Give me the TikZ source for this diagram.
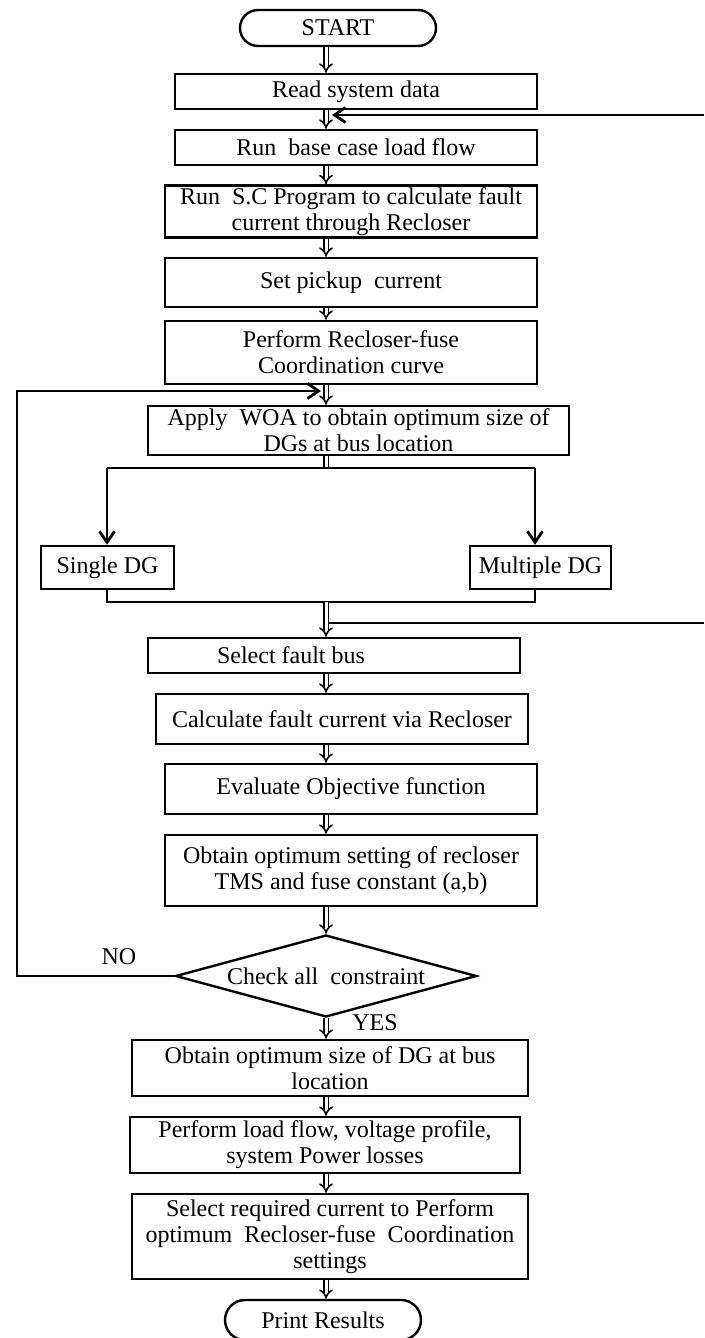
\documentclass[tikz,border=0pt]{standalone}
\usepackage{fontspec}
\setmainfont{Liberation Serif}
\usepackage{tikz}
\usetikzlibrary{shapes.geometric,shapes.misc,arrows.meta,positioning,calc}

\begin{document}
\begin{tikzpicture}[x=1pt,y=-1pt,
    font=\fontsize{24}{26}\selectfont,
    box/.style={draw,line width=2.4pt,inner sep=2pt,align=center},
    term/.style={draw,line width=2.4pt,rounded rectangle,inner sep=2pt},
    decision/.style={draw,line width=2.4pt,diamond,aspect=3.7,inner sep=0pt},
    dbl/.style={double,double distance=3pt,line width=1.6pt,-{Implies}},
    dblline/.style={double,double distance=3pt,line width=1.6pt},
    flow/.style={line width=2.8pt,-{Straight Barb[length=11pt,width=15pt]}},
    plain/.style={line width=2.8pt}]
\useasboundingbox (0,0) rectangle (704,1338);

% main column
\node[term,minimum width=200,minimum height=36] (start) at (338,28) {START};
\node[box,minimum width=362,minimum height=35] (read) at (356,91.5) {Read system data};
\node[box,minimum width=362,minimum height=35] (base) at (356,147.5) {Run\ \ base case load flow};
\node[box,minimum width=372,minimum height=49] (sc) at (351,211.5) {Run\ \ S.C Program to calculate fault\\current through Recloser};
\node[box,minimum width=372,minimum height=49] (pickup) at (351,282.5) {Set pickup\ \ current};
\node[box,minimum width=372,minimum height=63] (rfc) at (351,352.5) {Perform Recloser-fuse\\Coordination curve};
\node[box,minimum width=421,minimum height=49] (woa) at (358.5,430.5) {Apply\ \ WOA to obtain optimum size of\\DGs at bus location};
\node[box,minimum width=133,minimum height=43] (single) at (107.5,567.5) {Single DG};
\node[box,minimum width=141,minimum height=43] (multi) at (540.5,567.5) {Multiple DG};
\node[box,minimum width=372,minimum height=35] (fbus) at (334,655.5) {Select fault bus\hspace{86pt}};
\node[box,minimum width=372,minimum height=50] (calc) at (342,719) {Calculate fault current via Recloser};
\node[box,minimum width=372,minimum height=50] (evalf) at (351,789) {Evaluate Objective function};
\node[box,minimum width=372,minimum height=71] (tms) at (351,870.5) {Obtain optimum setting of recloser\\TMS and fuse constant (a,b)};
\node[decision,minimum width=301,minimum height=82] (check) at (326,976) {Check all\ \ constraint};
\node[box,minimum width=396,minimum height=56] (dgsize) at (330,1068) {Obtain optimum size of DG at bus\\location};
\node[box,minimum width=390,minimum height=56] (lflow) at (325,1145) {Perform load flow, voltage profile,\\system Power losses};
\node[box,minimum width=396,minimum height=85] (results) at (330,1236.5) {Select required current to Perform\\optimum\ \ Recloser-fuse\ \ Coordination\\settings};
\node[term,minimum width=200,minimum height=40] (print) at (323,1320) {Print Results};

\node (no) at (119,957) {NO};
\node (yes) at (375,1023) {YES};

% helper points
\coordinate (sp) at (326,0);
\coordinate (split) at (326,468);
\coordinate (sl) at (107,468);
\coordinate (sr) at (535,468);
\coordinate (ml) at (107,602);
\coordinate (mr) at (535,602);
\coordinate (join) at (326,602);
\coordinate (back1) at (704,115);
\coordinate (tip1) at (332,115);
\coordinate (back2) at (704,623);
\coordinate (tip2) at (329,623);
\coordinate (loopx) at (17,0);
\coordinate (tip3) at (321,391);

% double arrows down the spine
\foreach \a/\b in {start/read,read/base,base/sc,sc/pickup,pickup/rfc,rfc/woa,
    fbus/calc,calc/evalf,evalf/tms,tms/check,check/dgsize,dgsize/lflow,
    lflow/results,results/print}
  \draw[dbl] (\a.south -| sp) -- (\b.north -| sp);

% split into single / multiple DG
\draw[dblline] (woa.south -| split) -- (split);
\draw[plain] (sl) -- (sr);
\draw[flow] (sl) -- (sl |- single.north);
\draw[flow] (sr) -- (sr |- multi.north);
\draw[plain] (sl |- single.south) -- (ml) -- (mr) -- (sr |- multi.south);
\draw[dbl] (join) -- (fbus.north -| sp);

% loops
\draw[flow] (back1) -- (tip1);
\draw[line width=2.4pt] (back2) -- (tip2);
\draw[flow] (check.west) -- (check.west -| loopx) -- (loopx |- tip3) -- (tip3);
\end{tikzpicture}
\end{document}
